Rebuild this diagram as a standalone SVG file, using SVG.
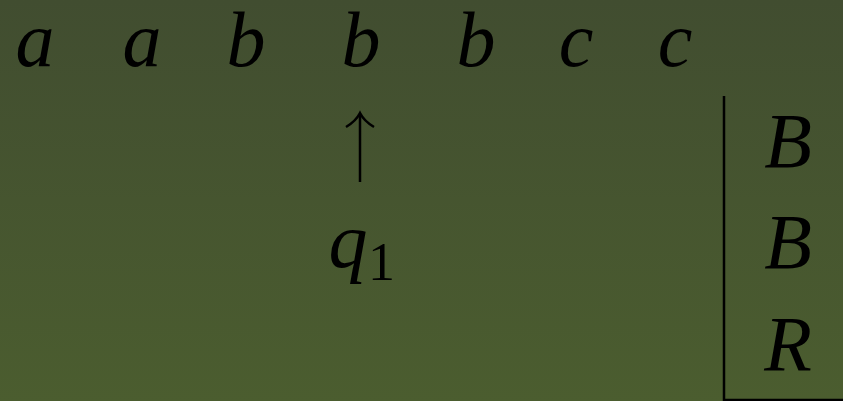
<svg xmlns="http://www.w3.org/2000/svg" width="843" height="401" viewBox="0 0 843 401">
<defs>
<linearGradient id="bg" x1="0" y1="0" x2="0" y2="1">
<stop offset="0" stop-color="#414d30"/>
<stop offset="1" stop-color="#4b5d2f"/>
</linearGradient>
<style>
.m{font-family:"Liberation Serif","Times New Roman",serif;font-style:italic;font-size:78px;fill:#000;text-anchor:middle}
.s{font-family:"Liberation Serif","Times New Roman",serif;font-size:54px;fill:#000}
.ln{stroke:#000;stroke-width:2.5;fill:none}
</style>
</defs>
<rect width="843" height="401" fill="url(#bg)"/>
<g id="tape">
<text class="m" x="35" y="66">a</text>
<text class="m" x="142" y="66">a</text>
<text class="m" x="246" y="66">b</text>
<text class="m" x="361" y="66">b</text>
<text class="m" x="476" y="66">b</text>
<text class="m" x="576" y="66">c</text>
<text class="m" x="675" y="66">c</text>
</g>
<g id="head">
<text class="m" x="348" y="267">q</text>
<text class="s" x="368" y="280">1</text>
</g>
<g id="stack">
<text class="m" x="788" y="167">B</text>
<text class="m" x="788" y="268">B</text>
<text class="m" x="788" y="370">R</text>
</g>
<g id="connectors">
<path class="ln" d="M360,114 V182"/>
<path class="ln" d="M346,127 Q356,121 360,113 Q364,121 374,127"/>
<path class="ln" d="M724,96 V400 H843"/>
</g>
</svg>
